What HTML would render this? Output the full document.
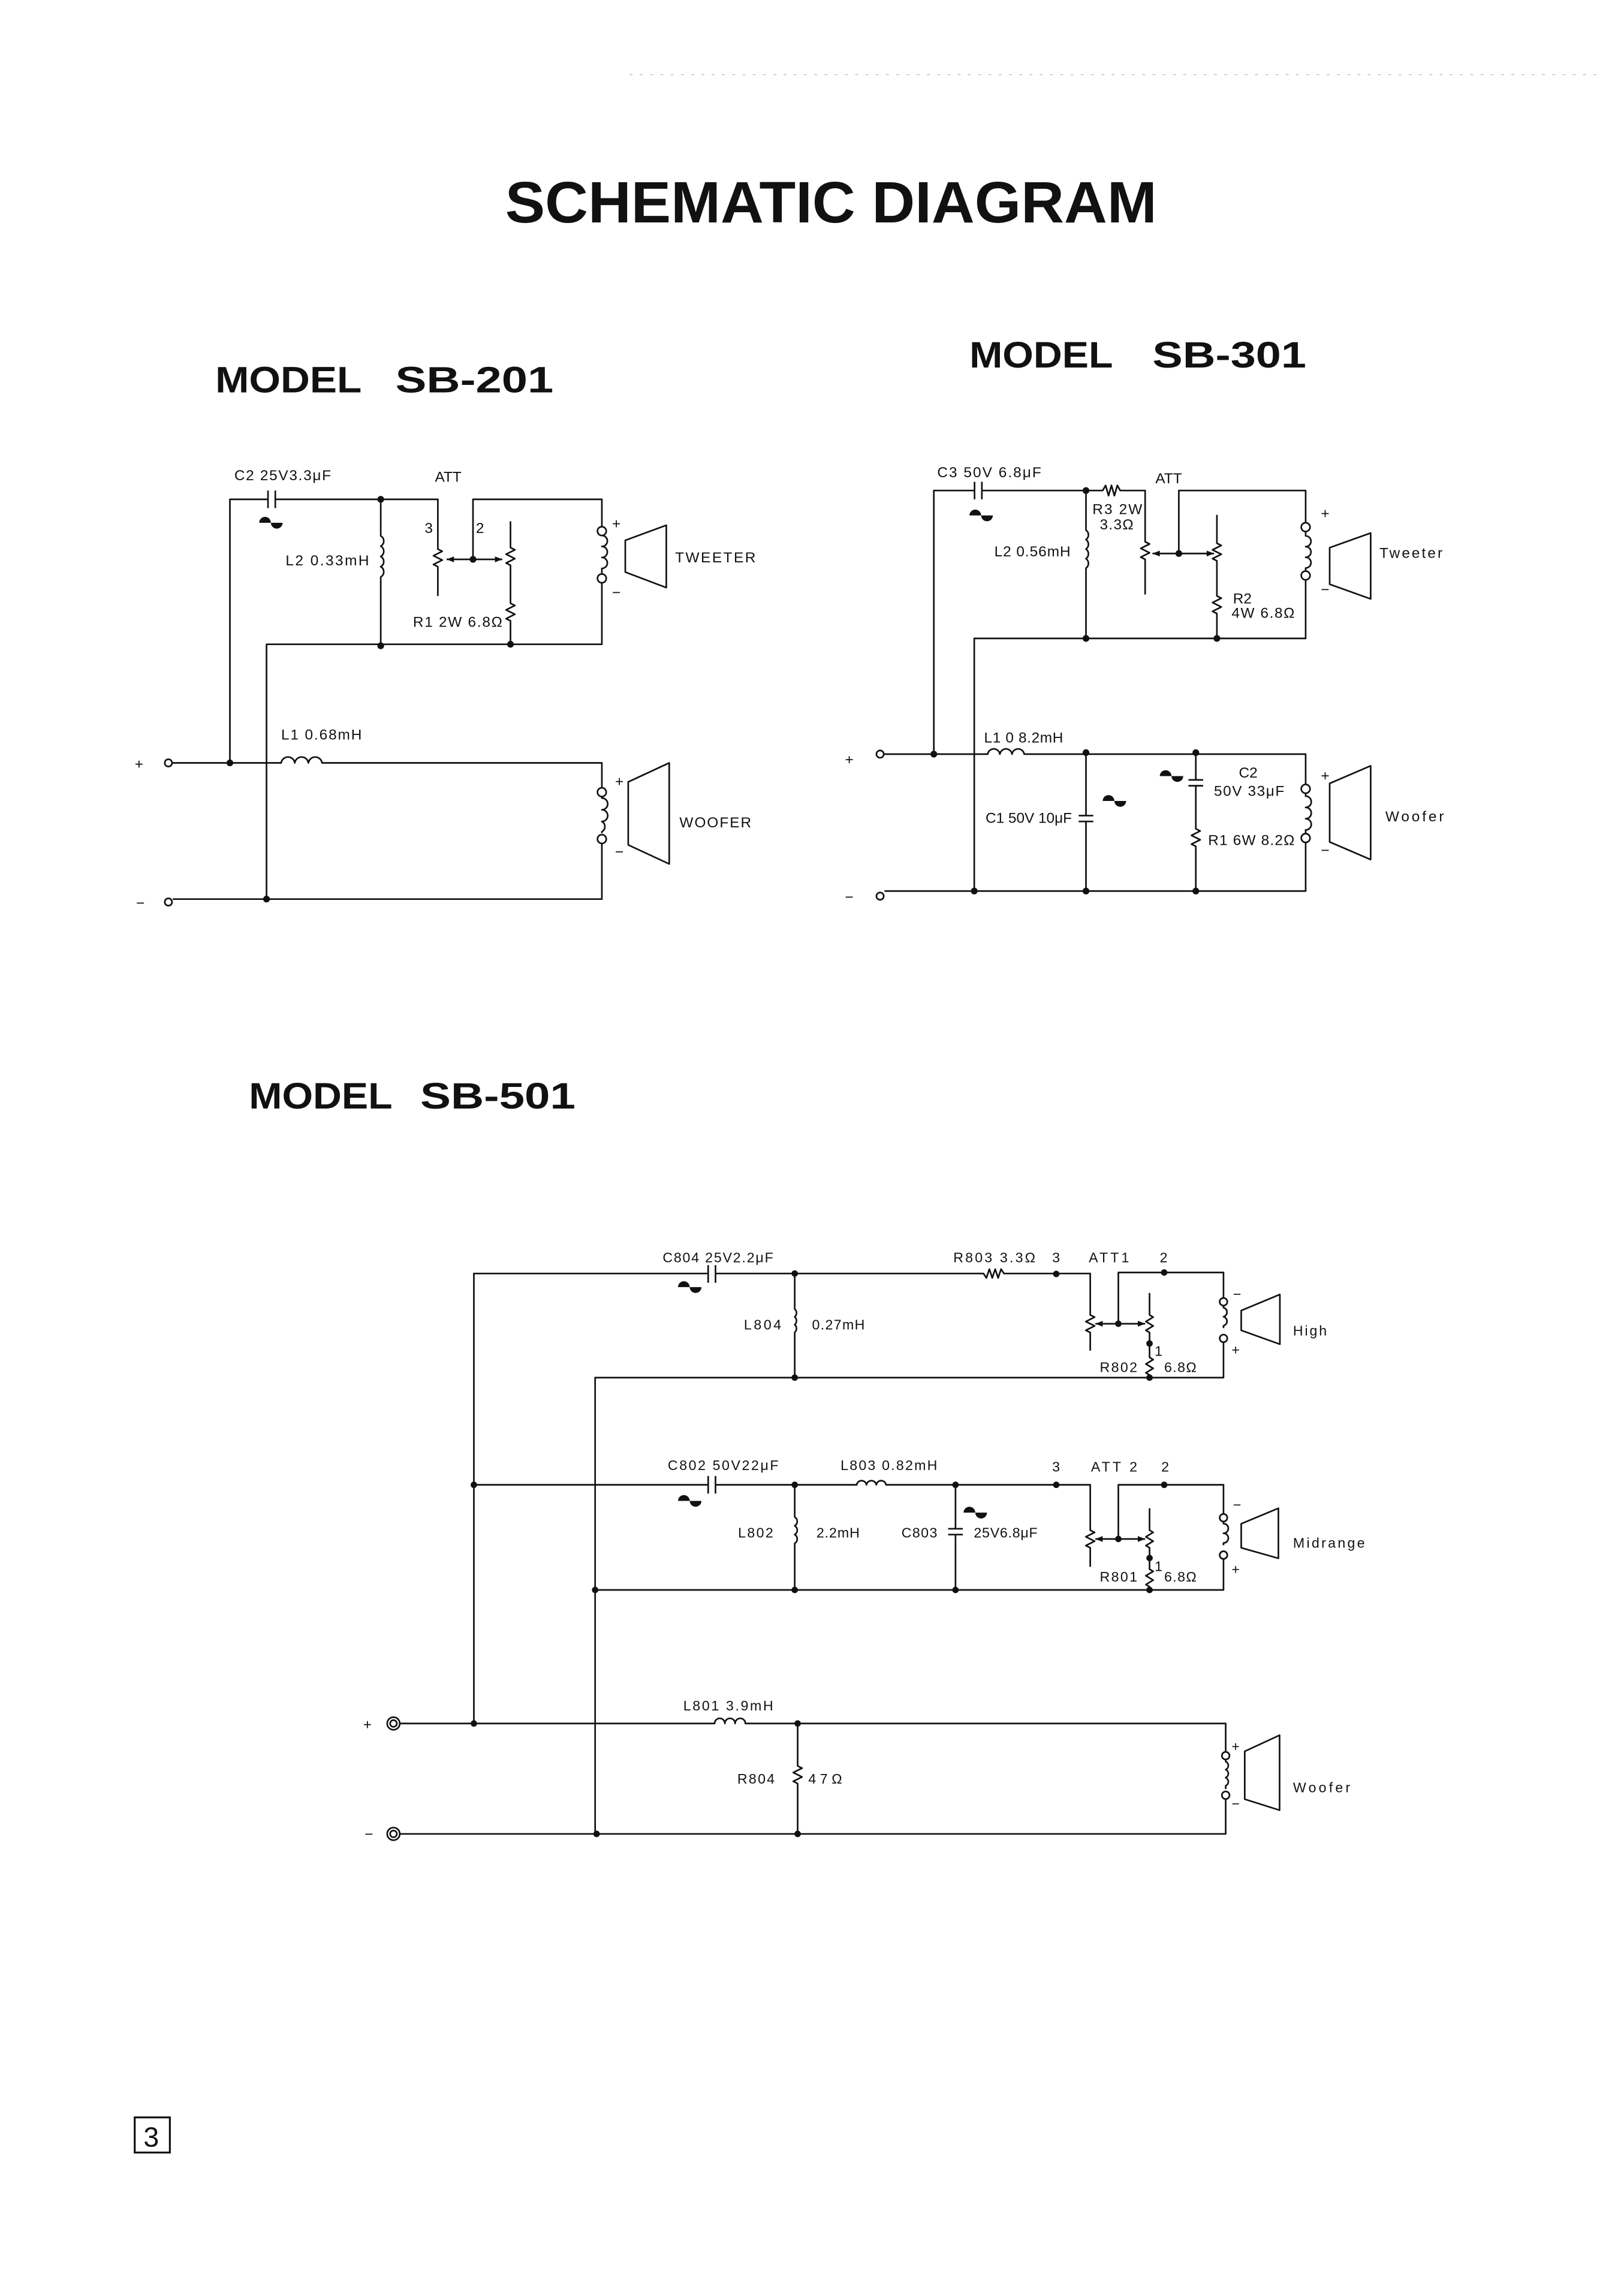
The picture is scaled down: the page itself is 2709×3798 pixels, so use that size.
<!DOCTYPE html>
<html><head><meta charset="utf-8"><style>
html,body{margin:0;padding:0;background:#fff;}
svg{display:block}
text{font-family:"Liberation Sans",sans-serif;fill:#111}
.w{fill:none;stroke:#111;stroke-width:1.1;stroke-linejoin:round}
.t{font-size:10px}
.s{font-size:9.5px}
.b{font-weight:bold}
</style></head><body>
<svg width="2709" height="3798" viewBox="0 0 1109 1555" preserveAspectRatio="none" xmlns="http://www.w3.org/2000/svg">
<rect width="1109" height="1555" fill="#fff"/>
<line x1="430" y1="51" x2="1095" y2="51" stroke="#bbb" stroke-width="0.6" stroke-dasharray="2 5"/>

<!-- Titles -->
<text x="345" y="152" class="b" font-size="40" textLength="445" lengthAdjust="spacingAndGlyphs">SCHEMATIC DIAGRAM</text>
<text x="147" y="268" class="b" font-size="25" textLength="100" lengthAdjust="spacingAndGlyphs">MODEL</text>
<text x="270" y="268" class="b" font-size="25" textLength="108" lengthAdjust="spacingAndGlyphs">SB-201</text>
<text x="662" y="251" class="b" font-size="25" textLength="98" lengthAdjust="spacingAndGlyphs">MODEL</text>
<text x="787" y="251" class="b" font-size="25" textLength="105" lengthAdjust="spacingAndGlyphs">SB-301</text>
<text x="170" y="757" class="b" font-size="25" textLength="98" lengthAdjust="spacingAndGlyphs">MODEL</text>
<text x="287" y="757" class="b" font-size="25" textLength="106" lengthAdjust="spacingAndGlyphs">SB-501</text>

<!-- ===== SB-201 ===== -->
<g class="w">
<path d="M157 521V341H183M188 341H299V375l3 1.5-6 3 6 3-6 3 3 1.5V407"/>
<path d="M183 335V347M188 335V347"/>
<path d="M260 341V366a4 4 0 0 1 0 7a4 4 0 0 1 0 7a4 4 0 0 1 0 7a4 4 0 0 1 0 7V442"/>
<path d="M323 382V341H411V359.7M411 365.7a3.5 3.5 0 0 1 0 7.5a3.5 3.5 0 0 1 0 7.5a3.5 3.5 0 0 1 0 7.5V392M411 398V440H182V614"/>
<path d="M305 382H343"/>
<path d="M348.6 356V374l3 1.5-6 3 6 3-6 3 3 1.5V412l3 1.5-6 3 6 3-6 3 3 1.5V440"/>
<circle cx="411" cy="362.7" r="3"/><circle cx="411" cy="395" r="3"/>
<path d="M118 521H192a4.7 4.7 0 0 1 9.3 0a4.7 4.7 0 0 1 9.3 0a4.7 4.7 0 0 1 9.3 0H411V538"/>
<circle cx="411" cy="541" r="3"/><circle cx="411" cy="573" r="3"/>
<path d="M411 544v1a4 4 0 0 1 0 8a4 4 0 0 1 0 8a4 4 0 0 1 0 7v1M411 576V614H118"/>
<circle cx="115" cy="521" r="2.5"/><circle cx="115" cy="616" r="2.5"/>
<polygon points="427,369 455,358.7 455,401.3 427,390.7"/>
<polygon points="429,534 457,521 457,590 429,577"/>
</g>
<g fill="#111">
<circle cx="260" cy="341" r="2.3"/><circle cx="260" cy="441" r="2.3"/><circle cx="348.6" cy="440" r="2.3"/>
<circle cx="323" cy="382" r="2.3"/><circle cx="157" cy="521" r="2.3"/><circle cx="182" cy="614" r="2.3"/>
<path d="M305 382l5-2v4zM343 382l-5-2v4z"/>
<path d="M177 357a4 4 0 0 1 8 0zM185 357a4 4 0 0 0 8 0z"/>
</g>
<text x="160" y="328" class="t" textLength="66">C2 25V3.3μF</text>
<text x="297" y="329" class="t">ATT</text>
<text x="290" y="364" class="t">3</text>
<text x="325" y="364" class="t">2</text>
<text x="195" y="386" class="t" textLength="57">L2 0.33mH</text>
<text x="282" y="428" class="t" textLength="61">R1 2W 6.8Ω</text>
<text x="418" y="361" class="t">+</text>
<text x="418" y="408" class="t">−</text>
<text x="461" y="384" class="t" textLength="55">TWEETER</text>
<text x="192" y="505" class="t" textLength="55">L1 0.68mH</text>
<text x="420" y="537" class="t">+</text>
<text x="420" y="585" class="t">−</text>
<text x="464" y="565" class="t" textLength="49">WOOFER</text>
<text x="92" y="525" class="t">+</text>
<text x="93" y="620" class="t">−</text>

<!-- ===== SB-301 ===== -->
<g class="w">
<path d="M637.7 515V335H665.5M670.5 335H753l2-3.5 2 7 2-7 2 7 2-7 2 3.5H782V370l3 1.5-6 3 6 3-6 3 3 1.5V406"/>
<path d="M665.5 329V341M670.5 329V341"/>
<path d="M741.6 335V362a4 4 0 0 1 0 6.5a4 4 0 0 1 0 6.5a4 4 0 0 1 0 6.5a4 4 0 0 1 0 6.5V436"/>
<path d="M805 378V335H891.6V357M891.6 363v3a3.5 3.5 0 0 1 0 7.3a3.5 3.5 0 0 1 0 7.3a3.5 3.5 0 0 1 0 7.3V390M891.6 396V436H665.3V608.5"/>
<path d="M787 378H829"/>
<path d="M831 351.6V371l3 1.5-6 3 6 3-6 3 3 1.5V407l3 1.5-6 3 6 3-6 3 3 1.5V436"/>
<circle cx="891.6" cy="360" r="3"/><circle cx="891.6" cy="393" r="3"/>
<path d="M604 515H674.5a4.2 4.2 0 0 1 8.3 0a4.2 4.2 0 0 1 8.3 0a4.2 4.2 0 0 1 8.3 0H891.6V535.7"/>
<circle cx="891.6" cy="538.7" r="3"/><circle cx="891.6" cy="572.3" r="3"/>
<path d="M891.6 541.7v2a3.8 3.8 0 0 1 0 7.7a3.8 3.8 0 0 1 0 7.7a3.8 3.8 0 0 1 0 7.7v2.5M891.6 575.3V608.5H604"/>
<circle cx="601" cy="515" r="2.5"/><circle cx="601" cy="612" r="2.5"/>
<path d="M741.6 514V557M741.6 561V608.5M736.6 557H746.6M736.6 561H746.6"/>
<path d="M816.6 514V532.6M816.6 536.6V566l3 1.5-6 3 6 3-6 3 3 1.5V608.5M811.6 532.6H821.6M811.6 536.6H821.6"/>
<polygon points="908,374 936,364 936,409 908,399"/>
<polygon points="908,535 936,523 936,587 908,575"/>
</g>
<g fill="#111">
<circle cx="741.6" cy="335" r="2.3"/><circle cx="741.6" cy="436" r="2.3"/><circle cx="831" cy="436" r="2.3"/>
<circle cx="805" cy="378" r="2.3"/><circle cx="637.7" cy="515" r="2.3"/><circle cx="741.6" cy="514" r="2.3"/>
<circle cx="816.6" cy="514" r="2.3"/><circle cx="665.3" cy="608.5" r="2.3"/><circle cx="741.6" cy="608.5" r="2.3"/><circle cx="816.6" cy="608.5" r="2.3"/>
<path d="M787 378l5-2v4zM829 378l-5-2v4z"/>
<path d="M662 352a4 4 0 0 1 8 0zM670 352a4 4 0 0 0 8 0z"/>
<path d="M753 547a4 4 0 0 1 8 0zM761 547a4 4 0 0 0 8 0z"/>
<path d="M792 530a4 4 0 0 1 8 0zM800 530a4 4 0 0 0 8 0z"/>
</g>
<text x="640" y="326" class="t" textLength="71">C3 50V 6.8μF</text>
<text x="789" y="330" class="t">ATT</text>
<text x="746" y="351" class="t" textLength="34">R3 2W</text>
<text x="751" y="361.5" class="t" textLength="23">3.3Ω</text>
<text x="679" y="380" class="t" textLength="52">L2 0.56mH</text>
<text x="842" y="412" class="t">R2</text>
<text x="841" y="422" class="t" textLength="43">4W 6.8Ω</text>
<text x="902" y="354" class="t">+</text>
<text x="902" y="406" class="t">−</text>
<text x="942" y="381" class="t" textLength="43">Tweeter</text>
<text x="672" y="507" class="t" textLength="54">L1 0 8.2mH</text>
<text x="673" y="562" class="t" textLength="59">C1 50V 10μF</text>
<text x="846" y="531" class="t">C2</text>
<text x="829" y="543.5" class="t" textLength="48">50V 33μF</text>
<text x="825" y="577" class="t" textLength="59">R1 6W 8.2Ω</text>
<text x="902" y="533" class="t">+</text>
<text x="902" y="584" class="t">−</text>
<text x="946" y="561" class="t" textLength="40">Woofer</text>
<text x="577" y="522" class="t">+</text>
<text x="577" y="616" class="t">−</text>

<!-- ===== SB-501 ===== -->
<g class="w">
<!-- high -->
<path d="M323.6 1177V869.7H483.6M488.6 869.7H671.6l2 3 2-6 2 6 2-6 2 6 2-6 2 3H744.5V898l3 1.5-6 3 6 3-6 3 3 1.5V922.4"/>
<path d="M483.6 864V876M488.6 864V876"/>
<path d="M542.7 869.7V894a3.5 3.5 0 0 1 0 5.3a3.5 3.5 0 0 1 0 5.3a3.5 3.5 0 0 1 0 5.3V940.8"/>
<path d="M763.7 904V869H835.5V886M835.5 892v1a3.2 3.2 0 0 1 0 6.2a3.2 3.2 0 0 1 0 6.2v1.6M835.5 917V940.8H406.4V1252.4"/>
<path d="M748 904H782"/>
<path d="M785 883V898l2.5 1.5-5 3 5 3-5 3 2.5 1.5V927l2.5 1.5-5 3 5 3-5 3 2.5 1.5V940.8"/>
<circle cx="835.5" cy="889" r="2.6"/><circle cx="835.5" cy="914" r="2.6"/>
<polygon points="847.6,895 874,884 874,918 847.6,908.5"/>
<!-- mid -->
<path d="M323.6 1014H483.6M488.6 1014H585a3.4 3.4 0 0 1 6.7 0a3.4 3.4 0 0 1 6.7 0a3.4 3.4 0 0 1 6.7 0H744.5V1045l3 1.5-6 3 6 3-6 3 3 1.5V1070"/>
<path d="M483.6 1008V1020M488.6 1008V1020"/>
<path d="M542.7 1014V1036a3.5 3.5 0 0 1 0 6a3.5 3.5 0 0 1 0 6a3.5 3.5 0 0 1 0 6V1085.8"/>
<path d="M652.5 1014V1044M652.5 1048V1085.8M647.5 1044H657.5M647.5 1048H657.5"/>
<path d="M763.7 1051V1014H835.5V1033.5M835.5 1039.5v1a3.2 3.2 0 0 1 0 6.6a3.2 3.2 0 0 1 0 6.6v1.6M835.5 1065V1085.8H406.4"/>
<path d="M748 1051H782"/>
<path d="M785 1030V1045l2.5 1.5-5 3 5 3-5 3 2.5 1.5V1071.6l2.5 1.5-5 3 5 3-5 3 2.5 1.5V1085.8"/>
<circle cx="835.5" cy="1036.5" r="2.6"/><circle cx="835.5" cy="1062" r="2.6"/>
<polygon points="847.6,1040.6 873,1030 873,1064.2 847.6,1057"/>
<!-- woofer -->
<path d="M272.7 1177H488a3.5 3.5 0 0 1 7 0a3.5 3.5 0 0 1 7 0a3.5 3.5 0 0 1 7 0H837V1196"/>
<path d="M837 1202v1a3 3 0 0 1 0 5.5a3 3 0 0 1 0 5.5a3 3 0 0 1 0 5.5v2.3M837 1229V1252.4H272.7"/>
<circle cx="837" cy="1199" r="2.6"/><circle cx="837" cy="1226" r="2.6"/>
<path d="M544.7 1177V1206l3 1.5-6 3 6 3-6 3 3 1.5V1252.4"/>
<polygon points="850,1196 873.8,1185 873.8,1236.2 850,1228.7"/>
<circle cx="268.7" cy="1177" r="4.3"/><circle cx="268.7" cy="1177" r="2.3"/>
<circle cx="268.7" cy="1252.4" r="4.3"/><circle cx="268.7" cy="1252.4" r="2.3"/>
</g>
<g fill="#111">
<circle cx="542.7" cy="869.7" r="2.2"/><circle cx="721.3" cy="870" r="2.2"/><circle cx="795" cy="869" r="2.2"/>
<circle cx="763.7" cy="904" r="2.2"/><circle cx="785" cy="917.5" r="2.2"/><circle cx="542.7" cy="940.8" r="2.2"/><circle cx="785" cy="940.8" r="2.2"/>
<circle cx="323.6" cy="1014" r="2.2"/><circle cx="542.7" cy="1014" r="2.2"/><circle cx="652.5" cy="1014" r="2.2"/><circle cx="721.3" cy="1014" r="2.2"/><circle cx="795" cy="1014" r="2.2"/>
<circle cx="763.7" cy="1051" r="2.2"/><circle cx="785" cy="1064" r="2.2"/>
<circle cx="406.4" cy="1085.8" r="2.2"/><circle cx="542.7" cy="1085.8" r="2.2"/><circle cx="652.5" cy="1085.8" r="2.2"/><circle cx="785" cy="1085.8" r="2.2"/>
<circle cx="323.6" cy="1177" r="2.2"/><circle cx="544.7" cy="1177" r="2.2"/>
<circle cx="407.4" cy="1252.4" r="2.2"/><circle cx="544.7" cy="1252.4" r="2.2"/>
<path d="M748 904l5-2v4zM782 904l-5-2v4zM748 1051l5-2v4zM782 1051l-5-2v4z"/>
<path d="M463 879a4 4 0 0 1 8 0zM471 879a4 4 0 0 0 8 0z"/>
<path d="M463 1025a4 4 0 0 1 8 0zM471 1025a4 4 0 0 0 8 0z"/>
<path d="M658 1033a4 4 0 0 1 8 0zM666 1033a4 4 0 0 0 8 0z"/>
</g>
<text x="452.5" y="862" class="s" textLength="75.5">C804 25V2.2μF</text>
<text x="651" y="862" class="s" textLength="56">R803 3.3Ω</text>
<text x="718.5" y="862" class="s">3</text>
<text x="743.5" y="862" class="s" textLength="27.5">ATT1</text>
<text x="792" y="862" class="s">2</text>
<text x="508" y="908" class="s" textLength="25.5">L804</text>
<text x="554.5" y="908" class="s" textLength="36">0.27mH</text>
<text x="788.5" y="926" class="s" font-size="8">1</text>
<text x="751" y="937" class="s" textLength="25.6">R802</text>
<text x="795" y="937" class="s" textLength="22">6.8Ω</text>
<text x="842" y="887" class="s">−</text>
<text x="841" y="925" class="s">+</text>
<text x="883" y="912" class="s" textLength="23">High</text>

<text x="456" y="1004" class="s" textLength="75.6">C802 50V22μF</text>
<text x="574" y="1004" class="s" textLength="66">L803 0.82mH</text>
<text x="718.5" y="1005" class="s">3</text>
<text x="745" y="1005" class="s" textLength="31.6">ATT 2</text>
<text x="793" y="1005" class="s">2</text>
<text x="504" y="1050" class="s" textLength="24">L802</text>
<text x="557.5" y="1050" class="s" textLength="29.5">2.2mH</text>
<text x="615.6" y="1050" class="s" textLength="24.4">C803</text>
<text x="665" y="1050" class="s" textLength="43.5">25V6.8μF</text>
<text x="788.5" y="1073" class="s" font-size="8">1</text>
<text x="751" y="1080" class="s" textLength="25.6">R801</text>
<text x="795" y="1080" class="s" textLength="22">6.8Ω</text>
<text x="842" y="1031" class="s">−</text>
<text x="841" y="1075" class="s">+</text>
<text x="883" y="1057" class="s" textLength="49">Midrange</text>

<text x="466.6" y="1168" class="s" textLength="61.4">L801  3.9mH</text>
<text x="503.5" y="1218" class="s" textLength="25.5">R804</text>
<text x="552" y="1218" class="s" textLength="23">47Ω</text>
<text x="841" y="1196" class="s">+</text>
<text x="841" y="1235" class="s">−</text>
<text x="883" y="1224" class="s" textLength="39">Woofer</text>
<text x="248" y="1181" class="t">+</text>
<text x="249" y="1256" class="t">−</text>

<!-- page number -->
<rect x="92" y="1446" width="24" height="24" fill="none" stroke="#111" stroke-width="1.3"/>
<text x="98" y="1466" font-size="19">3</text>
</svg>
</body></html>
